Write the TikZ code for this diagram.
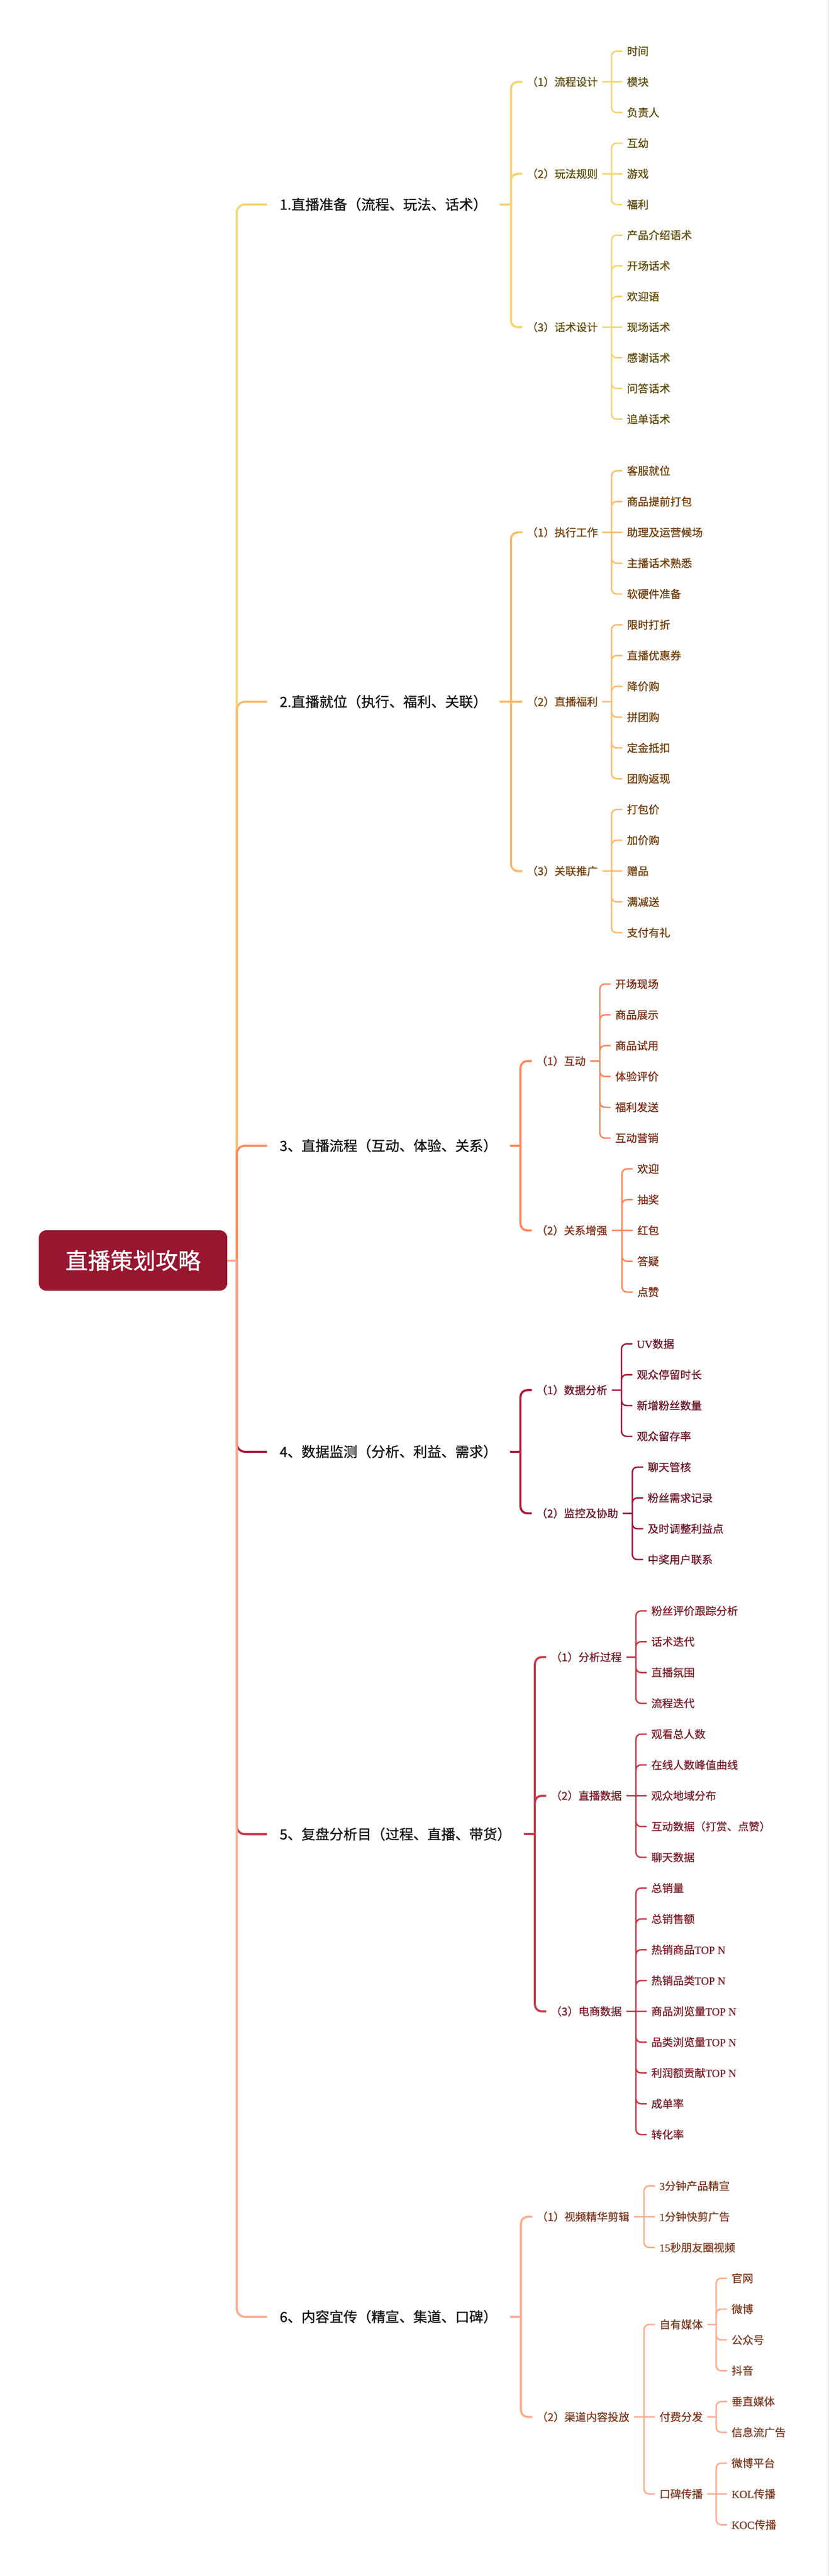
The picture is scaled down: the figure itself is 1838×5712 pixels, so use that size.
\documentclass[tikz,border=0pt]{standalone}
\usepackage{fontspec}
\setmainfont{Noto Sans CJK SC}[FakeBold=1.0]
\newfontfamily\lsfont{Liberation Serif}[FakeBold=1.0]
\newcommand\lsf[1]{{\lsfont #1}}
\definecolor{rootc}{HTML}{98162F}
\definecolor{maintx}{HTML}{141414}
\definecolor{c1l}{HTML}{F2D46F}\definecolor{c1t}{HTML}{5E4B0A}
\definecolor{c2l}{HTML}{FDBA6E}\definecolor{c2t}{HTML}{703C08}
\definecolor{c3l}{HTML}{FF865A}\definecolor{c3t}{HTML}{7C2C14}
\definecolor{c4l}{HTML}{A51A38}\definecolor{c4t}{HTML}{6A1224}
\definecolor{c5l}{HTML}{C83A48}\definecolor{c5t}{HTML}{7A1E2A}
\definecolor{c6l}{HTML}{FFAA8C}\definecolor{c6t}{HTML}{7D3A22}
\definecolor{edgec}{HTML}{D8D8D8}
\tikzset{
  tc/.style={}, lc/.style={},
  rootnode/.style={rectangle, rounded corners=17pt, fill=rootc, text=white, minimum width=418pt, minimum height=134pt, inner sep=0pt, font=\fontsize{50}{60}\selectfont},
  mainnode/.style={anchor=west, inner xsep=28pt, inner ysep=0pt, text height=27pt, text depth=4pt, font=\fontsize{31}{36}\selectfont, text=maintx},
  subnode/.style={anchor=west, inner xsep=10pt, inner ysep=0pt, text height=21pt, text depth=3pt, font=\fontsize{24}{28}\selectfont, tc},
  leafnode/.style={subnode},
  lone/.style={line width=4.6pt, rounded corners=18pt, lc},
  ltwo/.style={line width=4.6pt, rounded corners=15pt, lc},
  lthree/.style={line width=3.2pt, rounded corners=11pt, lc},
}
\begin{document}
\begin{tikzpicture}[x=1pt,y=-1pt]
\useasboundingbox (0,0) rectangle (1838,5712);
\fill[white] (0,0) rectangle (1838,5712);
\draw[edgec, line width=2pt] (1836.5,0) -- (1836.5,5712);

\node[rootnode] (root) at (295,2795) {直播策划攻略};
\coordinate (trunk) at (525,2795);

% ---------- Section 1 ----------
\begin{scope}[tc/.style={text=c1t}, lc/.style={draw=c1l}]
\node[mainnode] (m1) at (592,453.5) {1.直播准备（流程、玩法、话术）};
\coordinate (m1v) at (1133,453.5);
\node[subnode] (s11) at (1158,181.5) {（1）流程设计};
\node[subnode] (s12) at (1158,385.5) {（2）玩法规则};
\node[subnode] (s13) at (1158,725.5) {（3）话术设计};
\coordinate (s11v) at (1356,181.5);
\coordinate (s12v) at (1356,385.5);
\coordinate (s13v) at (1356,725.5);
\node[leafnode] (a1) at (1380,113.5) {时间};
\node[leafnode] (a2) at (1380,181.5) {模块};
\node[leafnode] (a3) at (1380,249.5) {负责人};
\node[leafnode] (a4) at (1380,317.5) {互幼};
\node[leafnode] (a5) at (1380,385.5) {游戏};
\node[leafnode] (a6) at (1380,453.5) {福利};
\node[leafnode] (a7) at (1380,521.5) {产品介绍语术};
\node[leafnode] (a8) at (1380,589.5) {开场话术};
\node[leafnode] (a9) at (1380,657.5) {欢迎语};
\node[leafnode] (a10) at (1380,725.5) {现场话术};
\node[leafnode] (a11) at (1380,793.5) {感谢话术};
\node[leafnode] (a12) at (1380,861.5) {问答话术};
\node[leafnode] (a13) at (1380,929.5) {追单话术};
\draw[lone] (root.east) -- (trunk);
\draw[lone] (trunk) |- (m1.west);
\draw[ltwo] (m1.east) -- (m1v);
\draw[ltwo] (m1v) |- (s11.west) (m1v) |- (s12.west) (m1v) |- (s13.west);
\draw[lthree] (s11.east) -- (s11v) (s11v) |- (a1.west) (s11v) -- (a2.west) (s11v) |- (a3.west);
\draw[lthree] (s12.east) -- (s12v) (s12v) |- (a4.west) (s12v) -- (a5.west) (s12v) |- (a6.west);
\draw[lthree] (s13.east) -- (s13v) (s13v) |- (a7.west) (s13v) |- (a8.west) (s13v) |- (a9.west) (s13v) -- (a10.west) (s13v) |- (a11.west) (s13v) |- (a12.west) (s13v) |- (a13.west);
\end{scope}

% ---------- Section 2 ----------
\begin{scope}[tc/.style={text=c2t}, lc/.style={draw=c2l}]
\node[mainnode] (m2) at (592,1556.03) {2.直播就位（执行、福利、关联）};
\coordinate (m2v) at (1133,1556.03);
\node[subnode] (s21) at (1158,1180.54) {（1）执行工作};
\node[subnode] (s22) at (1158,1556.03) {（2）直播福利};
\node[subnode] (s23) at (1158,1931.51) {（3）关联推广};
\coordinate (s21v) at (1356,1180.54);
\coordinate (s22v) at (1356,1556.03);
\coordinate (s23v) at (1356,1931.51);
\node[leafnode] (b1) at (1380,1044) {客服就位};
\node[leafnode] (b2) at (1380,1112.27) {商品提前打包};
\node[leafnode] (b3) at (1380,1180.54) {助理及运营候场};
\node[leafnode] (b4) at (1380,1248.81) {主播话术熟悉};
\node[leafnode] (b5) at (1380,1317.08) {软硬件准备};
\node[leafnode] (b6) at (1380,1385.35) {限时打折};
\node[leafnode] (b7) at (1380,1453.62) {直播优惠券};
\node[leafnode] (b8) at (1380,1521.89) {降价购};
\node[leafnode] (b9) at (1380,1590.16) {拼团购};
\node[leafnode] (b10) at (1380,1658.43) {定金抵扣};
\node[leafnode] (b11) at (1380,1726.7) {团购返现};
\node[leafnode] (b12) at (1380,1794.97) {打包价};
\node[leafnode] (b13) at (1380,1863.24) {加价购};
\node[leafnode] (b14) at (1380,1931.51) {赠品};
\node[leafnode] (b15) at (1380,1999.78) {满减送};
\node[leafnode] (b16) at (1380,2068.05) {支付有礼};
\draw[lone] (trunk) |- (m2.west);
\draw[ltwo] (m2.east) -- (m2v);
\draw[ltwo] (m2v) |- (s21.west) (m2v) -- (s22.west) (m2v) |- (s23.west);
\draw[lthree] (s21.east) -- (s21v) (s21v) |- (b1.west) (s21v) |- (b2.west) (s21v) -- (b3.west) (s21v) |- (b4.west) (s21v) |- (b5.west);
\draw[lthree] (s22.east) -- (s22v) (s22v) |- (b6.west) (s22v) |- (b7.west) (s22v) |- (b8.west) (s22v) |- (b9.west) (s22v) |- (b10.west) (s22v) |- (b11.west);
\draw[lthree] (s23.east) -- (s23v) (s23v) |- (b12.west) (s23v) |- (b13.west) (s23v) -- (b14.west) (s23v) |- (b15.west) (s23v) |- (b16.west);
\end{scope}

% ---------- Section 3 ----------
\begin{scope}[tc/.style={text=c3t}, lc/.style={draw=c3l}]
\node[mainnode] (m3) at (592,2540.58) {3、直播流程（互动、体验、关系）};
\coordinate (m3v) at (1154,2540.58);
\node[subnode] (s31) at (1179,2352.75) {（1）互动};
\node[subnode] (s32) at (1179,2728.4) {（2）关系增强};
\coordinate (s31v) at (1330,2352.75);
\coordinate (s32v) at (1379,2728.4);
\node[leafnode] (c1) at (1354,2182) {开场现场};
\node[leafnode] (c2) at (1354,2250.3) {商品展示};
\node[leafnode] (c3) at (1354,2318.6) {商品试用};
\node[leafnode] (c4) at (1354,2386.9) {体验评价};
\node[leafnode] (c5) at (1354,2455.2) {福利发送};
\node[leafnode] (c6) at (1354,2523.5) {互动营销};
\node[leafnode] (c7) at (1403,2591.8) {欢迎};
\node[leafnode] (c8) at (1403,2660.1) {抽奖};
\node[leafnode] (c9) at (1403,2728.4) {红包};
\node[leafnode] (c10) at (1403,2796.7) {答疑};
\node[leafnode] (c11) at (1403,2865) {点赞};
\draw[lone] (trunk) |- (m3.west);
\draw[ltwo] (m3.east) -- (m3v);
\draw[ltwo] (m3v) |- (s31.west) (m3v) |- (s32.west);
\draw[lthree] (s31.east) -- (s31v) (s31v) |- (c1.west) (s31v) |- (c2.west) (s31v) |- (c3.west) (s31v) |- (c4.west) (s31v) |- (c5.west) (s31v) |- (c6.west);
\draw[lthree] (s32.east) -- (s32v) (s32v) |- (c7.west) (s32v) |- (c8.west) (s32v) -- (c9.west) (s32v) |- (c10.west) (s32v) |- (c11.west);
\end{scope}

% ---------- Section 4 ----------
\begin{scope}[tc/.style={text=c4t}, lc/.style={draw=c4l}]
\node[mainnode] (m4) at (592,3219.05) {4、数据监测（分析、利益、需求）};
\coordinate (m4v) at (1154,3219.05);
\node[subnode] (s41) at (1179,3082.45) {（1）数据分析};
\node[subnode] (s42) at (1179,3355.65) {（2）监控及协助};
\coordinate (s41v) at (1378,3082.45);
\coordinate (s42v) at (1402,3355.65);
\node[leafnode] (d1) at (1402,2980) {\lsf{UV}数据};
\node[leafnode] (d2) at (1402,3048.3) {观众停留时长};
\node[leafnode] (d3) at (1402,3116.6) {新增粉丝数量};
\node[leafnode] (d4) at (1402,3184.9) {观众留存率};
\node[leafnode] (d5) at (1426,3253.2) {聊天管核};
\node[leafnode] (d6) at (1426,3321.5) {粉丝需求记录};
\node[leafnode] (d7) at (1426,3389.8) {及时调整利益点};
\node[leafnode] (d8) at (1426,3458.1) {中奖用户联系};
\draw[lone] (trunk) |- (m4.west);
\draw[ltwo] (m4.east) -- (m4v);
\draw[ltwo] (m4v) |- (s41.west) (m4v) |- (s42.west);
\draw[lthree] (s41.east) -- (s41v) (s41v) |- (d1.west) (s41v) |- (d2.west) (s41v) |- (d3.west) (s41v) |- (d4.west);
\draw[lthree] (s42.east) -- (s42v) (s42v) |- (d5.west) (s42v) |- (d6.west) (s42v) |- (d7.west) (s42v) |- (d8.west);
\end{scope}

% ---------- Section 5 ----------
\begin{scope}[tc/.style={text=c5t}, lc/.style={draw=c5l}]
\node[mainnode] (m5) at (592,4067.18) {5、复盘分析目（过程、直播、带货）};
\coordinate (m5v) at (1186,4067.18);
\node[subnode] (s51) at (1211,3674.45) {（1）分析过程};
\node[subnode] (s52) at (1211,3981.8) {（2）直播数据};
\node[subnode] (s53) at (1211,4459.9) {（3）电商数据};
\coordinate (s51v) at (1410,3674.45);
\coordinate (s52v) at (1410,3981.8);
\coordinate (s53v) at (1410,4459.9);
\node[leafnode] (e1) at (1434,3572) {粉丝评价跟踪分析};
\node[leafnode] (e2) at (1434,3640.3) {话术迭代};
\node[leafnode] (e3) at (1434,3708.6) {直播氛围};
\node[leafnode] (e4) at (1434,3776.9) {流程迭代};
\node[leafnode] (e5) at (1434,3845.2) {观看总人数};
\node[leafnode] (e6) at (1434,3913.5) {在线人数峰值曲线};
\node[leafnode] (e7) at (1434,3981.8) {观众地域分布};
\node[leafnode] (e8) at (1434,4050.1) {互动数据（打赏、点赞）};
\node[leafnode] (e9) at (1434,4118.4) {聊天数据};
\node[leafnode] (e10) at (1434,4186.7) {总销量};
\node[leafnode] (e11) at (1434,4255) {总销售额};
\node[leafnode] (e12) at (1434,4323.3) {热销商品\lsf{TOP N}};
\node[leafnode] (e13) at (1434,4391.6) {热销品类\lsf{TOP N}};
\node[leafnode] (e14) at (1434,4459.9) {商品浏览量\lsf{TOP N}};
\node[leafnode] (e15) at (1434,4528.2) {品类浏览量\lsf{TOP N}};
\node[leafnode] (e16) at (1434,4596.5) {利润额贡献\lsf{TOP N}};
\node[leafnode] (e17) at (1434,4664.8) {成单率};
\node[leafnode] (e18) at (1434,4733.1) {转化率};
\draw[lone] (trunk) |- (m5.west);
\draw[ltwo] (m5.east) -- (m5v);
\draw[ltwo] (m5v) |- (s51.west) (m5v) |- (s52.west) (m5v) |- (s53.west);
\draw[lthree] (s51.east) -- (s51v) (s51v) |- (e1.west) (s51v) |- (e2.west) (s51v) |- (e3.west) (s51v) |- (e4.west);
\draw[lthree] (s52.east) -- (s52v) (s52v) |- (e5.west) (s52v) |- (e6.west) (s52v) -- (e7.west) (s52v) |- (e8.west) (s52v) |- (e9.west);
\draw[lthree] (s53.east) -- (s53v) (s53v) |- (e10.west) (s53v) |- (e11.west) (s53v) |- (e12.west) (s53v) |- (e13.west) (s53v) -- (e14.west) (s53v) |- (e15.west) (s53v) |- (e16.west) (s53v) |- (e17.west) (s53v) |- (e18.west);
\end{scope}

% ---------- Section 6 ----------
\begin{scope}[tc/.style={text=c6t}, lc/.style={draw=c6l}]
\node[mainnode] (m6) at (592,5137.28) {6、内容宜传（精宣、集道、口碑）};
\coordinate (m6v) at (1155,5137.28);
\node[subnode] (s61) at (1180,4915.3) {（1）视频精华剪辑};
\node[subnode] (s62) at (1180,5359.25) {（2）渠道内容投放};
\coordinate (s61v) at (1428,4915.3);
\coordinate (s62v) at (1428,5359.25);
\node[leafnode] (f1) at (1452,4847) {\lsf{3}分钟产品精宣};
\node[leafnode] (f2) at (1452,4915.3) {\lsf{1}分钟快剪广告};
\node[leafnode] (f3) at (1452,4983.6) {\lsf{15}秒朋友圈视频};
\node[subnode] (t1) at (1452,5154.35) {自有媒体};
\node[subnode] (t2) at (1452,5359.25) {付费分发};
\node[subnode] (t3) at (1452,5530) {口碑传播};
\coordinate (t1v) at (1588,5154.35);
\coordinate (t2v) at (1588,5359.25);
\coordinate (t3v) at (1588,5530);
\node[leafnode] (g1) at (1612,5051.9) {官网};
\node[leafnode] (g2) at (1612,5120.2) {微博};
\node[leafnode] (g3) at (1612,5188.5) {公众号};
\node[leafnode] (g4) at (1612,5256.8) {抖音};
\node[leafnode] (g5) at (1612,5325.1) {垂直媒体};
\node[leafnode] (g6) at (1612,5393.4) {信息流广告};
\node[leafnode] (g7) at (1612,5461.7) {微博平台};
\node[leafnode] (g8) at (1612,5530) {\lsf{KOL}传播};
\node[leafnode] (g9) at (1612,5598.3) {\lsf{KOC}传播};
\draw[lone] (root.east) -- (trunk);
\draw[lone] (trunk) |- (m6.west);
\draw[ltwo] (m6.east) -- (m6v);
\draw[ltwo] (m6v) |- (s61.west) (m6v) |- (s62.west);
\draw[lthree] (s61.east) -- (s61v) (s61v) |- (f1.west) (s61v) -- (f2.west) (s61v) |- (f3.west);
\draw[lthree] (s62.east) -- (s62v) (s62v) |- (t1.west) (s62v) -- (t2.west) (s62v) |- (t3.west);
\draw[lthree] (t1.east) -- (t1v) (t1v) |- (g1.west) (t1v) |- (g2.west) (t1v) |- (g3.west) (t1v) |- (g4.west);
\draw[lthree] (t2.east) -- (t2v) (t2v) |- (g5.west) (t2v) |- (g6.west);
\draw[lthree] (t3.east) -- (t3v) (t3v) |- (g7.west) (t3v) -- (g8.west) (t3v) |- (g9.west);
\end{scope}
\end{tikzpicture}
\end{document}
